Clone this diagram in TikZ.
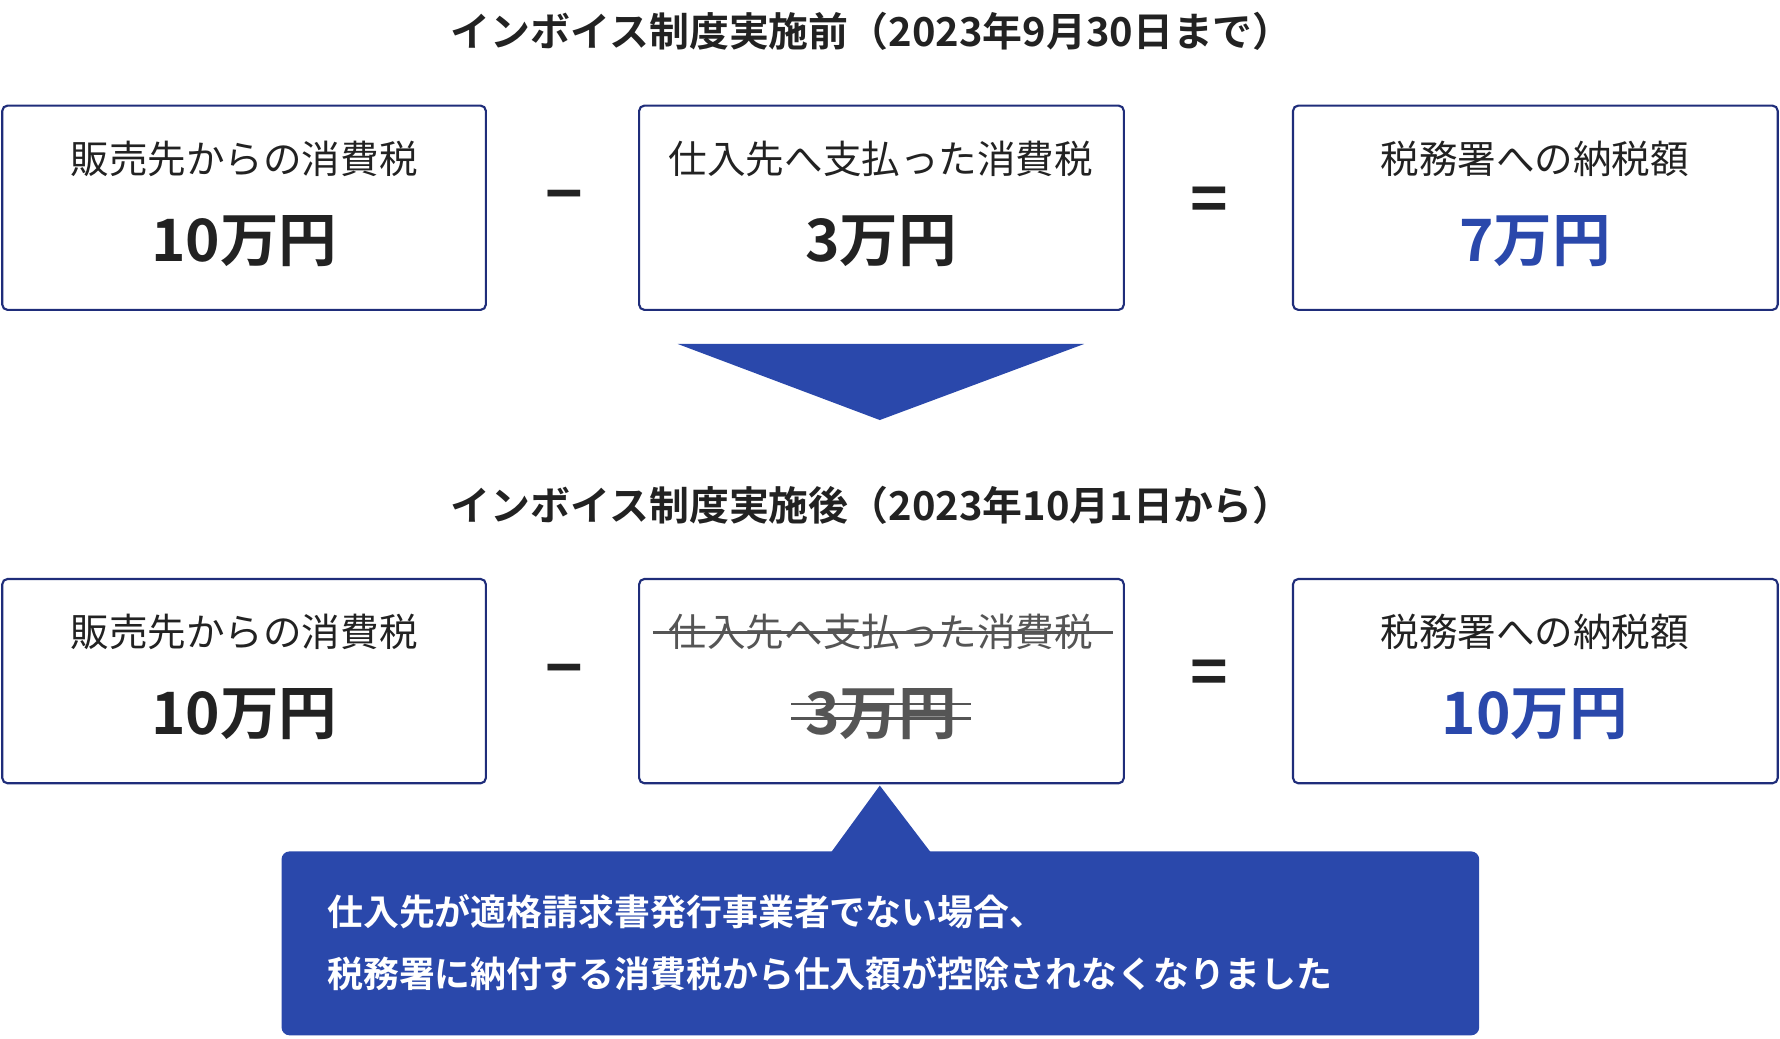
\documentclass[tikz,border=0pt]{standalone}
\usepackage{fontspec}
\setmainfont{Noto Sans CJK JP}
\newfontfamily\jpb{Noto Sans CJK JP Bold}
\definecolor{navy}{HTML}{1F2D7A}
\definecolor{blu}{HTML}{2A48AB}
\definecolor{ink}{HTML}{222222}
\definecolor{gry}{HTML}{555555}
\tikzset{
 box/.style={draw=navy,line width=1.6pt,rounded corners=4pt},
 lab/.style={font=\fontsize{29}{32}\selectfont,text=ink,inner sep=0},
 val/.style={font=\jpb\fontsize{44}{48}\selectfont,text=ink,inner sep=0},
 ttl/.style={font=\jpb\fontsize{30}{34}\selectfont,text=ink,inner sep=0},
 op/.style={font=\jpb\fontsize{48}{50}\selectfont,text=ink,inner sep=0},
 strike/.style={draw=gry,line width=2pt}
}
\begin{document}
\begin{tikzpicture}[x=0.03cm,y=-0.03cm]
\useasboundingbox (0,0) rectangle (1568,915);
\node[ttl] (t1) at (768,28) {インボイス制度実施前（2023年9月30日まで）};
\node[ttl] (t2) at (768,445) {インボイス制度実施後（2023年10月1日から）};
% row 1
\draw[box] (2,93) rectangle (428,273);
\draw[box] (563,93) rectangle (990,273);
\draw[box] (1139,93) rectangle (1566,273);
\node[lab] (a1) at (215,140) {販売先からの消費税};
\node[val] (a2) at (215,212) {10万円};
\node[lab] (b1) at (776,140) {仕入先へ支払った消費税};
\node[val] (b2) at (776,212) {3万円};
\node[lab] (c1) at (1352,140) {税務署への納税額};
\node[val,text=blu] (c2) at (1352,212) {7万円};
\node[op] (m1) at (497,180) {−};
\node[op] (e1) at (1065,180) {=};
\fill[blu] (597,303) -- (955,303) -- (775,370) -- cycle;
% row 2
\draw[box] (2,510) rectangle (428,690);
\draw[box] (563,510) rectangle (990,690);
\draw[box] (1139,510) rectangle (1566,690);
\node[lab] (a3) at (215,557) {販売先からの消費税};
\node[val] (a4) at (215,629) {10万円};
\node[lab,text=gry] (b3) at (776,557) {仕入先へ支払った消費税};
\node[val,text=gry] (b4) at (776,629) {3万円};
\node[lab] (c3) at (1352,557) {税務署への納税額};
\node[val,text=blu] (c4) at (1352,629) {10万円};
\node[op] (m2) at (497,597) {−};
\node[op] (e2) at (1065,597) {=};
\draw[strike] (575,557) -- (980,557);
\draw[strike] (697,620) -- (855,620);
\draw[strike] (697,633) -- (855,633);
% callout
\fill[blu,rounded corners=6pt] (248,750) rectangle (1303,912);
\fill[blu] (732,751) -- (775,692) -- (820,751) -- cycle;
\node[font=\jpb\fontsize{27}{30}\selectfont,text=white,anchor=west,inner sep=0] (n1) at (288,803) {仕入先が適格請求書発行事業者でない場合、};
\node[font=\jpb\fontsize{27}{30}\selectfont,text=white,anchor=west,inner sep=0] (n2) at (288,858) {税務署に納付する消費税から仕入額が控除されなくなりました};
\end{tikzpicture}
\end{document}
